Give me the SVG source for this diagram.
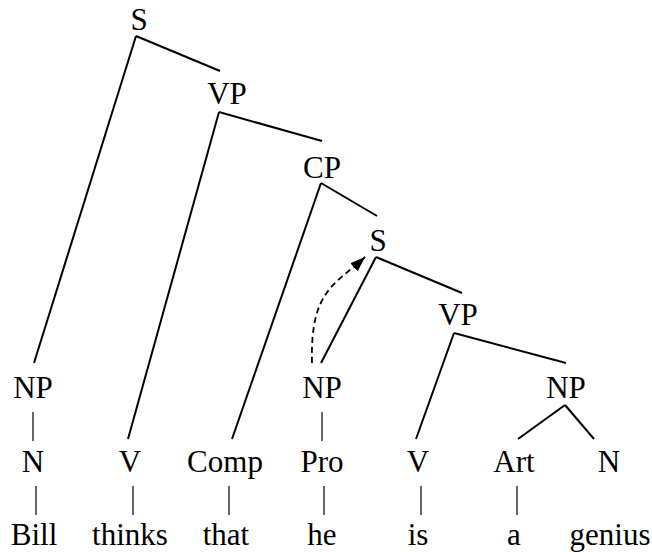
<svg xmlns="http://www.w3.org/2000/svg" width="652" height="552" viewBox="0 0 652 552">
<style>
text{font-size:31px;fill:#000;text-anchor:middle}
.e{stroke:#000;stroke-width:2;fill:none}
.b{stroke:#000;stroke-width:1.2;fill:none}
.d{stroke:#000;stroke-width:1.8;fill:none;stroke-dasharray:6 4}
</style>
<defs>
<marker id="ah" markerUnits="userSpaceOnUse" markerWidth="15" markerHeight="11" refX="15" refY="5.5" orient="auto">
<path d="M0,0 L15,5.5 L0,11 z" fill="#000"/>
</marker>
</defs>
<rect width="652" height="552" fill="#fff"/>
<g id="connectors">
<line class="e" x1="136" y1="36" x2="220" y2="71"/>
<line class="e" x1="136" y1="36" x2="34" y2="363"/>
<line class="e" x1="219" y1="112" x2="322" y2="141"/>
<line class="e" x1="219" y1="112" x2="128" y2="439"/>
<line class="e" x1="321" y1="183" x2="377" y2="216"/>
<line class="e" x1="321" y1="183" x2="232" y2="439"/>
<line class="e" x1="376" y1="257" x2="462" y2="293"/>
<line class="e" x1="376" y1="257" x2="321" y2="363"/>
<line class="e" x1="454" y1="333" x2="566" y2="363"/>
<line class="e" x1="454" y1="333" x2="416" y2="439"/>
<line class="e" x1="565" y1="405" x2="518" y2="439"/>
<line class="e" x1="565" y1="405" x2="594" y2="439"/>
<line class="b" x1="33" y1="412" x2="33" y2="441"/>
<line class="b" x1="322" y1="412" x2="322" y2="441"/>
<line class="b" x1="36" y1="486" x2="36" y2="515"/>
<line class="b" x1="133" y1="486" x2="133" y2="515"/>
<line class="b" x1="229" y1="486" x2="229" y2="515"/>
<line class="b" x1="324" y1="486" x2="324" y2="515"/>
<line class="b" x1="421" y1="486" x2="421" y2="515"/>
<line class="b" x1="517" y1="486" x2="517" y2="515"/>
<path class="d" d="M312,363 C310,290 335,285 365,257" marker-end="url(#ah)"/>
</g>
<g font-family="'Liberation Serif', 'Times New Roman', serif">
<g id="n-S"><text x="139" y="30">S</text></g>
<g id="n-VP"><text x="227" y="104">VP</text></g>
<g id="n-CP"><text x="322" y="178">CP</text></g>
<g id="n-S2"><text x="378" y="251">S</text></g>
<g id="n-VP2"><text x="458" y="325">VP</text></g>
<g id="n-NP1"><text x="33" y="398">NP</text></g>
<g id="n-NP2"><text x="322" y="398">NP</text></g>
<g id="n-NP3"><text x="566" y="398">NP</text></g>
<g id="n-N1"><text x="33" y="472">N</text></g>
<g id="n-V1"><text x="130" y="472">V</text></g>
<g id="n-Comp"><text x="225" y="472">Comp</text></g>
<g id="n-Pro"><text x="322" y="472">Pro</text></g>
<g id="n-V2"><text x="418" y="472">V</text></g>
<g id="n-Art"><text x="514" y="472">Art</text></g>
<g id="n-N2"><text x="609" y="472">N</text></g>
<g id="w-Bill"><text x="34" y="545">Bill</text></g>
<g id="w-thinks"><text x="130" y="545">thinks</text></g>
<g id="w-that"><text x="226" y="545">that</text></g>
<g id="w-he"><text x="322" y="545">he</text></g>
<g id="w-is"><text x="418" y="545">is</text></g>
<g id="w-a"><text x="514" y="545">a</text></g>
<g id="w-genius"><text x="610" y="545">genius</text></g>
</g>
</svg>
